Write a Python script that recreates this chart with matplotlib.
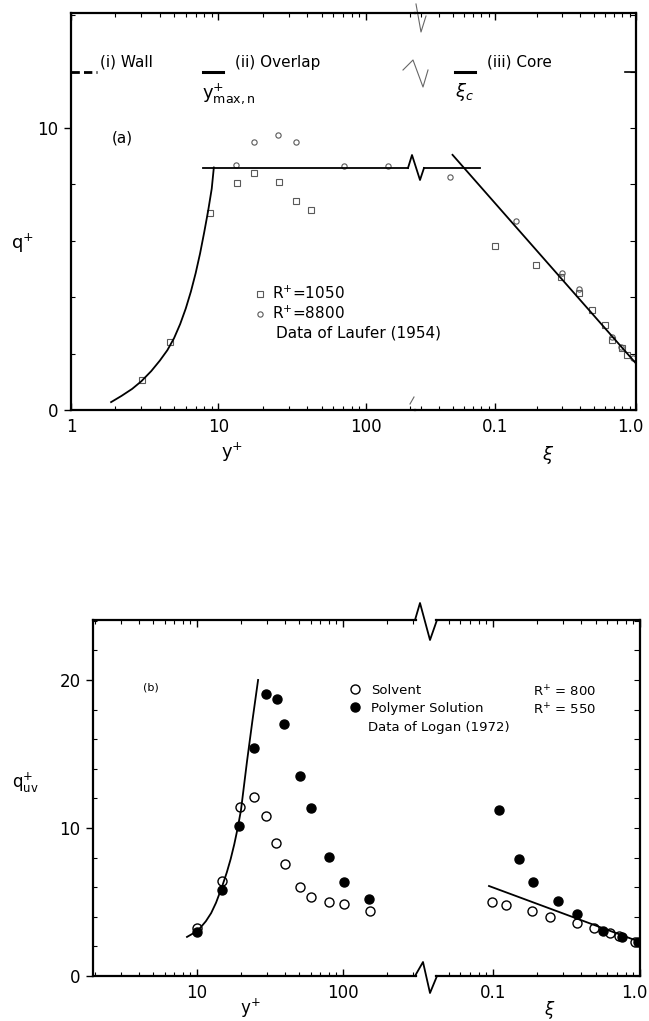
import matplotlib.pyplot as plt
from matplotlib.lines import Line2D
from matplotlib.transforms import ScaledTranslation
from matplotlib.ticker import FixedLocator, NullFormatter, LogLocator, MultipleLocator

# ---- (a) Laufer (1954): q+ across wall / overlap / core regions ----
a_sq_yp = [3.05, 4.7, 8.8, 13.4, 17.3, 25.6, 33.4, 42.3]
a_sq_q = [1.05, 2.4, 7.0, 8.05, 8.4, 8.1, 7.4, 7.1]
a_ci_yp = [13.1, 17.3, 25.2, 33.4, 70.9, 140]
a_ci_q = [8.7, 9.5, 9.75, 9.5, 8.65, 8.65]
a_sq_xi = [0.1, 0.197, 0.293, 0.395, 0.49, 0.6, 0.68, 0.79, 0.87]
a_sq_xq = [5.8, 5.14, 4.72, 4.15, 3.55, 3.0, 2.5, 2.2, 1.95]
a_ci_xi = [0.048, 0.142, 0.30, 0.395, 0.68, 0.78, 0.95]
a_ci_xq = [8.27, 6.7, 4.85, 4.3, 2.6, 2.25, 1.85]

a_wall_yp = [1.87, 2.2, 2.6, 3.0, 3.5, 4.0, 4.5, 5.0, 5.5, 6.0, 6.5, 7.0, 7.5, 8.0, 8.5, 9.0, 9.3]
a_wall_q = [0.28, 0.5, 0.75, 1.02, 1.38, 1.75, 2.12, 2.55, 3.05, 3.6, 4.2, 4.85, 5.55, 6.3, 7.05, 7.85, 8.6]
a_overlap_yp = [7.9, 193]
a_overlap_xi = [0.0313, 0.078]
a_overlap_q = 8.6
a_core_xi = [0.05, 1.0]
a_core_q = [9.05, 1.65]

# ---- (b) Logan (1972): q+_uv, solvent vs polymer solution ----
b_solv_yp = [10, 14.8, 19.7, 24.6, 29.7, 34.7, 40.1, 50.7, 60.3, 80, 101.6, 153]
b_solv_q = [3.24, 6.43, 11.4, 12.1, 10.8, 8.97, 7.55, 6.0, 5.35, 5.0, 4.86, 4.39]
b_poly_yp = [10, 14.8, 19.4, 24.6, 29.7, 35.3, 39.4, 50.7, 60.3, 80.2, 101.6, 150]
b_poly_q = [2.97, 5.81, 10.1, 15.4, 19.05, 18.7, 17.0, 13.5, 11.35, 8.04, 6.36, 5.2]
b_solv_xi = [0.098, 0.123, 0.184, 0.244, 0.373, 0.486, 0.625, 0.72, 0.92]
b_solv_xq = [5.0, 4.8, 4.39, 3.99, 3.58, 3.24, 2.9, 2.7, 2.3]
b_poly_xi = [0.11, 0.15, 0.187, 0.277, 0.373, 0.56, 0.75, 0.97]
b_poly_xq = [11.2, 7.9, 6.35, 5.07, 4.19, 3.04, 2.64, 2.3]

b_wall_yp = [8.54, 9.5, 10.5, 11.5, 12.5, 13.5, 14.8, 16.0, 17.0, 18.0, 19.0, 20.0, 22.0, 24.0, 26.2]
b_wall_q = [2.64, 2.9, 3.24, 3.7, 4.25, 4.95, 6.0, 7.0, 7.9, 8.9, 10.0, 11.2, 14.5, 17.3, 20.0]
b_core_xi = [0.094, 1.0]
b_core_q = [6.08, 2.3]

W, H = 649, 1021
plt.rcParams['font.family'] = 'DejaVu Sans'

fig = plt.figure(figsize=(W / 100, H / 100), dpi=100)


def fx(x):
    return x / W


def fy(y):
    return 1 - y / H


def zigzag(xs, ys, **kw):
    fig.add_artist(Line2D([fx(x) for x in xs], [fy(y) for y in ys],
                          transform=fig.transFigure, color='k', **kw))


def broken_pair(x0, xa, xb, x1, ytop, ybot, lxlim, rxlim, ymax,
                lmajor, rmajor, rlabels):
    h = (ybot - ytop) / H
    axl = fig.add_axes([fx(x0), fy(ybot), (xa - x0) / W, h])
    axr = fig.add_axes([fx(xb), fy(ybot), (x1 - xb) / W, h])
    for ax, lim, major in ((axl, lxlim, lmajor), (axr, rxlim, rmajor)):
        ax.patch.set_visible(False)
        ax.set_xscale('log')
        ax.set_xlim(*lim)
        ax.set_ylim(0, ymax)
        ax.xaxis.set_major_locator(FixedLocator(major))
        ax.xaxis.set_minor_locator(LogLocator(subs=range(2, 10)))
        ax.xaxis.set_minor_formatter(NullFormatter())
        ax.yaxis.set_major_locator(MultipleLocator(10))
        ax.yaxis.set_minor_locator(MultipleLocator(2))
        for s in ax.spines.values():
            s.set_linewidth(1.6)
        ax.tick_params(axis='x', which='both', direction='in', top=True,
                       labelsize=12, pad=6)
        ax.tick_params(axis='x', which='major', length=5, width=1)
        ax.tick_params(axis='x', which='minor', length=3, width=0.8)
    axl.spines['right'].set_visible(False)
    axr.spines['left'].set_visible(False)
    axl.set_xticklabels([('%g' % v) for v in lmajor])
    axr.set_xticklabels(rlabels)
    # keep the last label ("1.0") inside the figure edge
    last = axr.get_xticklabels()[-1]
    last.set_transform(last.get_transform() + ScaledTranslation(-6 / 100, 0, fig.dpi_scale_trans))
    axl.tick_params(axis='y', which='major', direction='out', length=5,
                    width=1, labelsize=12, pad=4)
    axl.tick_params(axis='y', which='minor', direction='in', length=3, width=0.8)
    axr.tick_params(axis='y', which='both', left=False, right=True,
                    labelleft=False, direction='in', length=4, width=0.8)
    return axl, axr


# ---------------- panel (a) ----------------
al, ar = broken_pair(71, 415, 415, 636, 13, 410, (1, 215), (0.0271, 1.0), 14.08,
                     [1, 10, 100], [0.1, 1.0], ['0.1', '1.0'])

mk = dict(ls='none', ms=3.8, mfc='none', mew=0.8, color='0.35')
hs, = al.plot(a_sq_yp, a_sq_q, marker='s', **mk)
hc, = al.plot(a_ci_yp, a_ci_q, marker='o', **mk)
ar.plot(a_sq_xi, a_sq_xq, marker='s', **mk)
ar.plot(a_ci_xi, a_ci_xq, marker='o', **mk)

al.plot(a_wall_yp, a_wall_q, color='k', lw=1.3)
al.plot(a_overlap_yp, [a_overlap_q] * 2, color='k', lw=1.3)
ar.plot(a_overlap_xi, [a_overlap_q] * 2, color='k', lw=1.3)
ar.plot(a_core_xi, a_core_q, color='k', lw=1.3)

# region boundaries at q+ = 12
al.plot([1.0, 1.5], [12, 12], color='k', lw=2, ls=(0, (3, 1.5)), clip_on=False)
al.plot([7.85, 10.7], [12, 12], color='k', lw=2.2)
ar.plot([0.052, 0.072], [12, 12], color='k', lw=2.2)
ar.plot([0.84, 1.0], [12, 12], color='k', lw=1.2)

# break marks
zigzag([408, 412, 420, 424], [168, 155, 180, 168], lw=1.3)
zigzag([416, 421, 426], [4, 32, 16], lw=0.8, alpha=0.6)
zigzag([403, 413, 423, 428], [70, 60, 87, 70], lw=0.8, alpha=0.6)
zigzag([410, 414], [404, 397], lw=0.8, alpha=0.6)

fig.text(fx(100), fy(62), '(i) Wall', fontsize=11, va='center')
fig.text(fx(235), fy(62), '(ii) Overlap', fontsize=11, va='center')
fig.text(fx(487), fy(62), '(iii) Core', fontsize=11, va='center')
fig.text(fx(202), fy(94), r'$\mathrm{y}^{+}_{\mathrm{max,n}}$', fontsize=13, va='center')
fig.text(fx(455), fy(92), r'$\xi_c$', fontsize=13, va='center')
fig.text(fx(112), fy(138), '(a)', fontsize=11, va='center')

fig.legend([hs, hc], ['R$^{+}$=1050', 'R$^{+}$=8800'], loc='upper left',
           bbox_to_anchor=(fx(255), fy(285)), frameon=False, fontsize=11,
           handlelength=0.6, handletextpad=0.5, borderpad=0, borderaxespad=0,
           labelspacing=0.15, numpoints=1)
fig.text(fx(276), fy(333), 'Data of Laufer (1954)', fontsize=11, va='center')

fig.text(fx(22), fy(243), r'q$^{+}$', fontsize=13, ha='center', va='center')
fig.text(fx(232), fy(452), r'y$^{+}$', fontsize=13, ha='center', va='center')
fig.text(fx(548), fy(455), r'$\xi$', fontsize=13, ha='center', va='center')

# ---------------- panel (b) ----------------
bl, br = broken_pair(93, 416, 436, 640, 620, 976, (1.94, 316), (0.041, 1.0), 24.05,
                     [10, 100], [0.1, 1.0], ['0.1', '1.0'])

sv, = bl.plot(b_solv_yp, b_solv_q, 'o', ms=6.5, mfc='white', mec='k', mew=1.0)
pl, = bl.plot(b_poly_yp, b_poly_q, 'o', ms=6.5, color='k')
br.plot(b_solv_xi, b_solv_xq, 'o', ms=6.5, mfc='white', mec='k', mew=1.0)
br.plot(b_poly_xi, b_poly_xq, 'o', ms=6.5, color='k')
bl.plot(b_wall_yp, b_wall_q, color='k', lw=1.3)
br.plot(b_core_xi, b_core_q, color='k', lw=1.3)

zigzag([415, 420, 430, 437], [620, 603, 640, 620], lw=1.3)
zigzag([415, 423, 430, 437], [976, 962, 993, 976], lw=1.3)

fig.text(fx(143), fy(687), '(b)', fontsize=8, va='center')
fig.legend([sv, pl], ['Solvent', 'Polymer Solution'], loc='upper left',
           bbox_to_anchor=(fx(350), fy(684)), frameon=False, fontsize=9.5,
           handlelength=0.8, handletextpad=0.8, borderpad=0, borderaxespad=0,
           labelspacing=0.35, numpoints=1)
fig.text(fx(533), fy(692), r'R$^{+}$ = 800', fontsize=9.5, va='center')
fig.text(fx(533), fy(710), r'R$^{+}$ = 550', fontsize=9.5, va='center')
fig.text(fx(368), fy(728), 'Data of Logan (1972)', fontsize=9.5, va='center')

fig.text(fx(25), fy(783), r'q$^{+}_{\mathrm{uv}}$', fontsize=12, ha='center', va='center')
fig.text(fx(250), fy(1008), r'y$^{+}$', fontsize=12, ha='center', va='center')
fig.text(fx(550), fy(1010), r'$\xi$', fontsize=12, ha='center', va='center')

fig.savefig('out.png', dpi=100)
